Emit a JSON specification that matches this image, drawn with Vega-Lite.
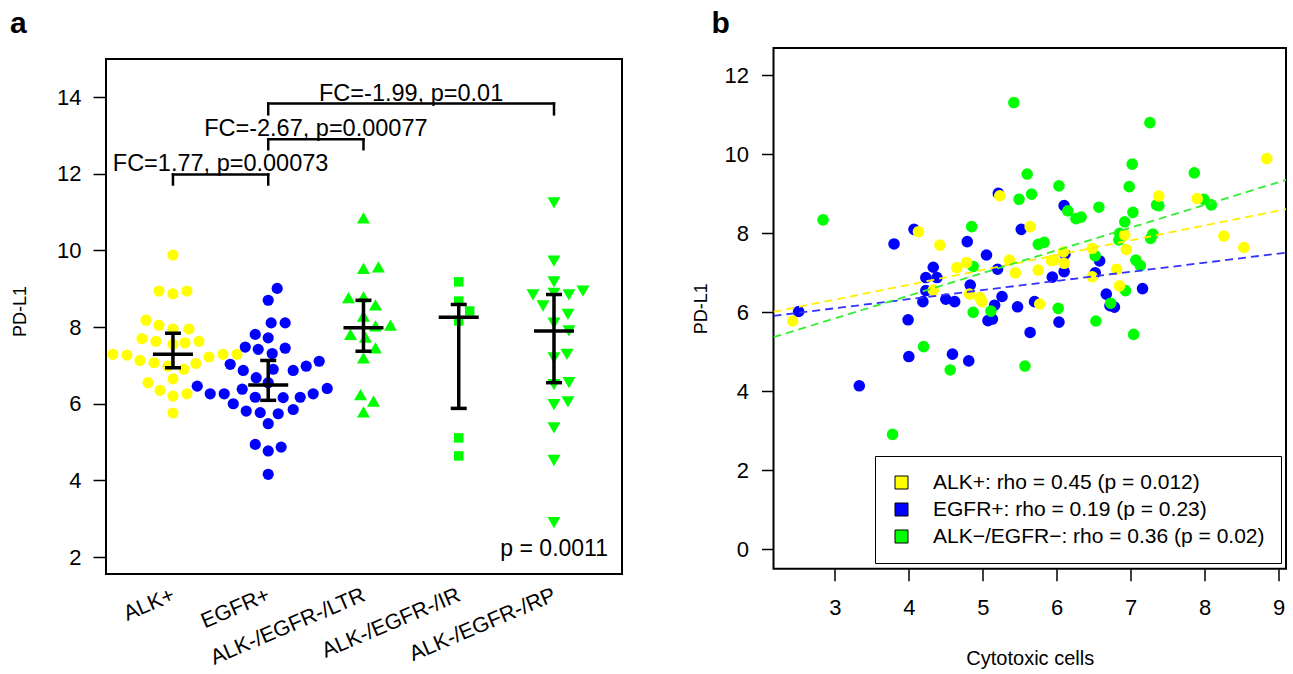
{
  "$schema": "https://vega.github.io/schema/vega-lite/v6.json",
  "background": "white",
  "padding": {"left": 10, "top": 8, "right": 2, "bottom": 2},
  "spacing": 151.5,
  "bounds": "flush",
  "config": {
    "font": "Liberation Sans",
    "view": {"stroke": null},
    "axis": {"labelColor": "black", "tickColor": "black", "titleColor": "black", "domainColor": "black", "labelFontSize": 22, "titleFontSize": 18, "titleFontWeight": "normal", "grid": false, "tickWidth": 1.5, "labelFont": "Liberation Sans", "titleFont": "Liberation Sans"}
  },
  "resolve": {"scale": {"color": "independent"}, "legend": {"color": "independent"}},
  "datasets": {
    "frame": [{"x": 0.297, "x2": 5.714, "y": 1.56, "y2": 14.99}],
    "swarm": [
      {"group": "ALK+", "x": 1.0, "y": 9.88}, {"group": "ALK+", "x": 0.853, "y": 8.94}, {"group": "ALK+", "x": 1.0, "y": 8.87}, {"group": "ALK+", "x": 1.147, "y": 8.94},
      {"group": "ALK+", "x": 0.717, "y": 8.18}, {"group": "ALK+", "x": 0.853, "y": 8.05}, {"group": "ALK+", "x": 1.0, "y": 7.95}, {"group": "ALK+", "x": 1.168, "y": 7.95},
      {"group": "ALK+", "x": 0.675, "y": 7.70}, {"group": "ALK+", "x": 0.821, "y": 7.63}, {"group": "ALK+", "x": 1.126, "y": 7.59}, {"group": "ALK+", "x": 1.273, "y": 7.63},
      {"group": "ALK+", "x": 1.0, "y": 7.55}, {"group": "ALK+", "x": 0.370, "y": 7.29}, {"group": "ALK+", "x": 0.517, "y": 7.27}, {"group": "ALK+", "x": 0.654, "y": 7.13},
      {"group": "ALK+", "x": 0.801, "y": 7.07}, {"group": "ALK+", "x": 1.378, "y": 7.22}, {"group": "ALK+", "x": 1.525, "y": 7.29}, {"group": "ALK+", "x": 1.672, "y": 7.29},
      {"group": "ALK+", "x": 1.241, "y": 7.05}, {"group": "ALK+", "x": 1.115, "y": 6.90}, {"group": "ALK+", "x": 0.948, "y": 6.98}, {"group": "ALK+", "x": 1.0, "y": 6.65},
      {"group": "ALK+", "x": 0.738, "y": 6.55}, {"group": "ALK+", "x": 0.864, "y": 6.35}, {"group": "ALK+", "x": 1.147, "y": 6.26}, {"group": "ALK+", "x": 1.0, "y": 6.20},
      {"group": "ALK+", "x": 1.0, "y": 5.76},
      {"group": "EGFR+", "x": 2.094, "y": 9.01}, {"group": "EGFR+", "x": 2.0, "y": 8.70}, {"group": "EGFR+", "x": 2.031, "y": 8.11}, {"group": "EGFR+", "x": 2.178, "y": 8.11},
      {"group": "EGFR+", "x": 1.864, "y": 7.81}, {"group": "EGFR+", "x": 2.0, "y": 7.72}, {"group": "EGFR+", "x": 1.759, "y": 7.48}, {"group": "EGFR+", "x": 1.895, "y": 7.42},
      {"group": "EGFR+", "x": 2.042, "y": 7.31}, {"group": "EGFR+", "x": 2.178, "y": 7.45}, {"group": "EGFR+", "x": 1.601, "y": 7.03}, {"group": "EGFR+", "x": 1.738, "y": 6.87},
      {"group": "EGFR+", "x": 1.874, "y": 6.68}, {"group": "EGFR+", "x": 2.052, "y": 6.90}, {"group": "EGFR+", "x": 2.262, "y": 6.87}, {"group": "EGFR+", "x": 2.399, "y": 6.98},
      {"group": "EGFR+", "x": 2.535, "y": 7.11}, {"group": "EGFR+", "x": 1.255, "y": 6.46}, {"group": "EGFR+", "x": 1.391, "y": 6.26}, {"group": "EGFR+", "x": 1.538, "y": 6.26},
      {"group": "EGFR+", "x": 1.727, "y": 6.38}, {"group": "EGFR+", "x": 1.864, "y": 6.17}, {"group": "EGFR+", "x": 2.157, "y": 6.16}, {"group": "EGFR+", "x": 2.336, "y": 6.17},
      {"group": "EGFR+", "x": 2.472, "y": 6.26}, {"group": "EGFR+", "x": 2.619, "y": 6.40}, {"group": "EGFR+", "x": 1.633, "y": 6.00}, {"group": "EGFR+", "x": 1.769, "y": 5.81},
      {"group": "EGFR+", "x": 1.916, "y": 5.77}, {"group": "EGFR+", "x": 2.105, "y": 5.74}, {"group": "EGFR+", "x": 2.262, "y": 5.85}, {"group": "EGFR+", "x": 2.0, "y": 5.48},
      {"group": "EGFR+", "x": 1.864, "y": 4.94}, {"group": "EGFR+", "x": 2.0, "y": 4.77}, {"group": "EGFR+", "x": 2.136, "y": 4.87}, {"group": "EGFR+", "x": 2.0, "y": 4.16},
      {"group": "EGFR+", "x": 2.0, "y": 6.55},
      {"group": "ALK-/EGFR-/LTR", "x": 3.0, "y": 10.85}, {"group": "ALK-/EGFR-/LTR", "x": 3.0, "y": 9.53}, {"group": "ALK-/EGFR-/LTR", "x": 3.157, "y": 9.57},
      {"group": "ALK-/EGFR-/LTR", "x": 2.843, "y": 8.77}, {"group": "ALK-/EGFR-/LTR", "x": 3.0, "y": 8.79}, {"group": "ALK-/EGFR-/LTR", "x": 3.126, "y": 8.58},
      {"group": "ALK-/EGFR-/LTR", "x": 3.0, "y": 8.29}, {"group": "ALK-/EGFR-/LTR", "x": 3.126, "y": 8.03}, {"group": "ALK-/EGFR-/LTR", "x": 3.283, "y": 8.05},
      {"group": "ALK-/EGFR-/LTR", "x": 2.864, "y": 7.81}, {"group": "ALK-/EGFR-/LTR", "x": 3.021, "y": 7.74}, {"group": "ALK-/EGFR-/LTR", "x": 3.126, "y": 7.46},
      {"group": "ALK-/EGFR-/LTR", "x": 3.0, "y": 7.20}, {"group": "ALK-/EGFR-/LTR", "x": 2.969, "y": 6.24}, {"group": "ALK-/EGFR-/LTR", "x": 3.105, "y": 6.07},
      {"group": "ALK-/EGFR-/LTR", "x": 3.0, "y": 5.79},
      {"group": "ALK-/EGFR-/IR", "x": 4.0, "y": 9.18}, {"group": "ALK-/EGFR-/IR", "x": 4.0, "y": 8.68}, {"group": "ALK-/EGFR-/IR", "x": 4.115, "y": 8.42},
      {"group": "ALK-/EGFR-/IR", "x": 4.0, "y": 8.16}, {"group": "ALK-/EGFR-/IR", "x": 4.0, "y": 5.11}, {"group": "ALK-/EGFR-/IR", "x": 4.0, "y": 4.64},
      {"group": "ALK-/EGFR-/RP", "x": 5.0, "y": 11.24}, {"group": "ALK-/EGFR-/RP", "x": 5.0, "y": 9.72}, {"group": "ALK-/EGFR-/RP", "x": 5.0, "y": 9.18},
      {"group": "ALK-/EGFR-/RP", "x": 4.78, "y": 8.84}, {"group": "ALK-/EGFR-/RP", "x": 5.0, "y": 8.88}, {"group": "ALK-/EGFR-/RP", "x": 5.157, "y": 8.84},
      {"group": "ALK-/EGFR-/RP", "x": 5.304, "y": 8.94}, {"group": "ALK-/EGFR-/RP", "x": 4.885, "y": 8.55}, {"group": "ALK-/EGFR-/RP", "x": 5.147, "y": 8.33},
      {"group": "ALK-/EGFR-/RP", "x": 5.0, "y": 8.10}, {"group": "ALK-/EGFR-/RP", "x": 5.157, "y": 7.90}, {"group": "ALK-/EGFR-/RP", "x": 5.0, "y": 7.20},
      {"group": "ALK-/EGFR-/RP", "x": 5.136, "y": 7.29}, {"group": "ALK-/EGFR-/RP", "x": 5.0, "y": 6.50}, {"group": "ALK-/EGFR-/RP", "x": 5.157, "y": 6.55},
      {"group": "ALK-/EGFR-/RP", "x": 5.0, "y": 5.98}, {"group": "ALK-/EGFR-/RP", "x": 5.147, "y": 6.05}, {"group": "ALK-/EGFR-/RP", "x": 5.0, "y": 5.37},
      {"group": "ALK-/EGFR-/RP", "x": 5.0, "y": 4.52}, {"group": "ALK-/EGFR-/RP", "x": 5.0, "y": 2.90}
    ],
    "summary": [
      {"group": "ALK+", "x": 1, "mean": 7.29, "lo": 6.94, "hi": 7.84},
      {"group": "EGFR+", "x": 2, "mean": 6.49, "lo": 6.09, "hi": 7.13},
      {"group": "ALK-/EGFR-/LTR", "x": 3, "mean": 7.98, "lo": 7.37, "hi": 8.70},
      {"group": "ALK-/EGFR-/IR", "x": 4, "mean": 8.26, "lo": 5.88, "hi": 8.59},
      {"group": "ALK-/EGFR-/RP", "x": 5, "mean": 7.90, "lo": 6.55, "hi": 8.85}
    ],
    "brackets": [
      {"x": 1, "x2": 2, "y": 11.98, "y2": 11.98}, {"x": 1, "x2": 1, "y": 11.98, "y2": 11.72}, {"x": 2, "x2": 2, "y": 11.98, "y2": 11.72},
      {"x": 2, "x2": 3, "y": 12.9, "y2": 12.9}, {"x": 2, "x2": 2, "y": 12.9, "y2": 12.64}, {"x": 3, "x2": 3, "y": 12.9, "y2": 12.64},
      {"x": 2, "x2": 5, "y": 13.83, "y2": 13.83}, {"x": 2, "x2": 2, "y": 13.83, "y2": 13.55}, {"x": 5, "x2": 5, "y": 13.83, "y2": 13.55}
    ],
    "notes": [
      {"x": 1.5, "y": 12.07, "label": "FC=1.77, p=0.00073"},
      {"x": 2.5, "y": 12.98, "label": "FC=-2.67, p=0.00077"},
      {"x": 3.5, "y": 13.9, "label": "FC=-1.99, p=0.01"}
    ],
    "pnote": [{"x": 5.567, "y": 2.04, "label": "p = 0.0011"}],
    "scatter": [
      {"group": "EGFR+", "x": 2.51, "y": 6.02}, {"group": "EGFR+", "x": 3.33, "y": 4.14}, {"group": "EGFR+", "x": 3.80, "y": 7.73}, {"group": "EGFR+", "x": 3.99, "y": 5.81},
      {"group": "EGFR+", "x": 4.00, "y": 4.88}, {"group": "EGFR+", "x": 4.07, "y": 8.10}, {"group": "EGFR+", "x": 4.19, "y": 6.27}, {"group": "EGFR+", "x": 4.23, "y": 6.55},
      {"group": "EGFR+", "x": 4.23, "y": 6.88}, {"group": "EGFR+", "x": 4.33, "y": 7.14}, {"group": "EGFR+", "x": 4.38, "y": 6.88}, {"group": "EGFR+", "x": 4.50, "y": 6.33},
      {"group": "EGFR+", "x": 4.59, "y": 4.94}, {"group": "EGFR+", "x": 4.62, "y": 6.27}, {"group": "EGFR+", "x": 4.79, "y": 7.79}, {"group": "EGFR+", "x": 4.81, "y": 4.77},
      {"group": "EGFR+", "x": 4.83, "y": 6.69}, {"group": "EGFR+", "x": 5.05, "y": 7.45}, {"group": "EGFR+", "x": 5.07, "y": 5.79}, {"group": "EGFR+", "x": 5.13, "y": 5.83},
      {"group": "EGFR+", "x": 5.16, "y": 6.18}, {"group": "EGFR+", "x": 5.20, "y": 7.09}, {"group": "EGFR+", "x": 5.21, "y": 9.01}, {"group": "EGFR+", "x": 5.26, "y": 6.40},
      {"group": "EGFR+", "x": 5.47, "y": 6.14}, {"group": "EGFR+", "x": 5.52, "y": 8.10}, {"group": "EGFR+", "x": 5.64, "y": 5.49}, {"group": "EGFR+", "x": 5.70, "y": 6.27},
      {"group": "EGFR+", "x": 5.94, "y": 6.89}, {"group": "EGFR+", "x": 6.03, "y": 5.75}, {"group": "EGFR+", "x": 6.10, "y": 8.70}, {"group": "EGFR+", "x": 6.10, "y": 7.03},
      {"group": "EGFR+", "x": 6.11, "y": 7.47}, {"group": "EGFR+", "x": 6.52, "y": 7.00}, {"group": "EGFR+", "x": 6.58, "y": 7.30}, {"group": "EGFR+", "x": 6.67, "y": 6.46},
      {"group": "EGFR+", "x": 6.72, "y": 6.17}, {"group": "EGFR+", "x": 6.78, "y": 6.13}, {"group": "EGFR+", "x": 7.16, "y": 6.60},
      {"group": "ALK−/EGFR−", "x": 2.84, "y": 8.34}, {"group": "ALK−/EGFR−", "x": 3.78, "y": 2.91}, {"group": "ALK−/EGFR−", "x": 4.20, "y": 5.13}, {"group": "ALK−/EGFR−", "x": 4.56, "y": 4.54},
      {"group": "ALK−/EGFR−", "x": 4.85, "y": 8.17}, {"group": "ALK−/EGFR−", "x": 4.87, "y": 7.16}, {"group": "ALK−/EGFR−", "x": 4.87, "y": 6.00}, {"group": "ALK−/EGFR−", "x": 5.11, "y": 6.03},
      {"group": "ALK−/EGFR−", "x": 5.42, "y": 11.31}, {"group": "ALK−/EGFR−", "x": 5.49, "y": 8.86}, {"group": "ALK−/EGFR−", "x": 5.57, "y": 4.64}, {"group": "ALK−/EGFR−", "x": 5.60, "y": 9.50},
      {"group": "ALK−/EGFR−", "x": 5.66, "y": 8.99}, {"group": "ALK−/EGFR−", "x": 5.75, "y": 7.72}, {"group": "ALK−/EGFR−", "x": 5.83, "y": 7.77}, {"group": "ALK−/EGFR−", "x": 6.02, "y": 6.10},
      {"group": "ALK−/EGFR−", "x": 6.03, "y": 9.20}, {"group": "ALK−/EGFR−", "x": 6.15, "y": 8.57}, {"group": "ALK−/EGFR−", "x": 6.26, "y": 8.37}, {"group": "ALK−/EGFR−", "x": 6.33, "y": 8.41},
      {"group": "ALK−/EGFR−", "x": 6.52, "y": 7.43}, {"group": "ALK−/EGFR−", "x": 6.53, "y": 5.78}, {"group": "ALK−/EGFR−", "x": 6.57, "y": 8.66}, {"group": "ALK−/EGFR−", "x": 6.73, "y": 6.23},
      {"group": "ALK−/EGFR−", "x": 6.84, "y": 7.83}, {"group": "ALK−/EGFR−", "x": 6.85, "y": 8.00}, {"group": "ALK−/EGFR−", "x": 6.92, "y": 8.29}, {"group": "ALK−/EGFR−", "x": 6.93, "y": 6.55},
      {"group": "ALK−/EGFR−", "x": 6.98, "y": 9.18}, {"group": "ALK−/EGFR−", "x": 7.02, "y": 9.75}, {"group": "ALK−/EGFR−", "x": 7.03, "y": 8.53}, {"group": "ALK−/EGFR−", "x": 7.04, "y": 5.44},
      {"group": "ALK−/EGFR−", "x": 7.07, "y": 7.32}, {"group": "ALK−/EGFR−", "x": 7.13, "y": 7.18}, {"group": "ALK−/EGFR−", "x": 7.26, "y": 10.80}, {"group": "ALK−/EGFR−", "x": 7.27, "y": 7.87},
      {"group": "ALK−/EGFR−", "x": 7.30, "y": 7.98}, {"group": "ALK−/EGFR−", "x": 7.35, "y": 8.72}, {"group": "ALK−/EGFR−", "x": 7.38, "y": 8.70}, {"group": "ALK−/EGFR−", "x": 7.86, "y": 9.53},
      {"group": "ALK−/EGFR−", "x": 7.99, "y": 8.86}, {"group": "ALK−/EGFR−", "x": 8.09, "y": 8.72},
      {"group": "ALK+", "x": 2.43, "y": 5.78}, {"group": "ALK+", "x": 4.13, "y": 8.04}, {"group": "ALK+", "x": 4.42, "y": 7.70}, {"group": "ALK+", "x": 5.23, "y": 8.95},
      {"group": "ALK+", "x": 4.65, "y": 7.13}, {"group": "ALK+", "x": 4.78, "y": 7.26}, {"group": "ALK+", "x": 5.36, "y": 7.32}, {"group": "ALK+", "x": 5.44, "y": 7.00},
      {"group": "ALK+", "x": 5.64, "y": 8.17}, {"group": "ALK+", "x": 5.75, "y": 7.07}, {"group": "ALK+", "x": 4.33, "y": 6.56}, {"group": "ALK+", "x": 4.82, "y": 6.46},
      {"group": "ALK+", "x": 4.96, "y": 6.37}, {"group": "ALK+", "x": 4.99, "y": 6.27}, {"group": "ALK+", "x": 5.77, "y": 6.21}, {"group": "ALK+", "x": 5.93, "y": 7.31},
      {"group": "ALK+", "x": 5.96, "y": 7.32}, {"group": "ALK+", "x": 6.10, "y": 7.24}, {"group": "ALK+", "x": 6.09, "y": 7.53}, {"group": "ALK+", "x": 6.48, "y": 7.62},
      {"group": "ALK+", "x": 6.48, "y": 6.90}, {"group": "ALK+", "x": 6.81, "y": 7.09}, {"group": "ALK+", "x": 6.92, "y": 7.96}, {"group": "ALK+", "x": 6.94, "y": 7.59},
      {"group": "ALK+", "x": 6.85, "y": 6.67}, {"group": "ALK+", "x": 7.38, "y": 8.94}, {"group": "ALK+", "x": 7.90, "y": 8.88}, {"group": "ALK+", "x": 8.26, "y": 7.93},
      {"group": "ALK+", "x": 8.53, "y": 7.64}, {"group": "ALK+", "x": 8.84, "y": 9.89}
    ],
    "fits": [
      {"group": "ALK+", "x": 2.17, "y": 6.01}, {"group": "ALK+", "x": 9.1, "y": 8.61},
      {"group": "EGFR+", "x": 2.17, "y": 5.91}, {"group": "EGFR+", "x": 9.1, "y": 7.51},
      {"group": "ALK−/EGFR−", "x": 2.17, "y": 5.37}, {"group": "ALK−/EGFR−", "x": 9.1, "y": 9.35}
    ]
  },
  "hconcat": [
    {
      "width": 516,
      "height": 526,
      "title": {"text": "a", "anchor": "start", "frame": "group", "dx": -96, "offset": -15, "fontSize": 30, "fontWeight": "bold", "baseline": "alphabetic", "color": "black", "font": "Liberation Sans"},
      "encoding": {
        "x": {"field": "x", "type": "quantitative", "scale": {"domain": [0.297, 5.714], "nice": false, "zero": false},
          "axis": {"values": [1, 2, 3, 4, 5], "labelExpr": "datum.value == 1 ? 'ALK+' : datum.value == 2 ? 'EGFR+' : datum.value == 3 ? 'ALK-/EGFR-/LTR' : datum.value == 4 ? 'ALK-/EGFR-/IR' : 'ALK-/EGFR-/RP'", "ticks": false, "domain": false, "labelAngle": -23, "labelAlign": "right", "labelBaseline": "top", "labelPadding": 10, "labelOffset": -4, "labelFontSize": 21.5, "labelLimit": 0, "labelFlush": false, "labelOverlap": false, "title": null}},
        "y": {"field": "y", "type": "quantitative", "scale": {"domain": [1.56, 15.28], "nice": false, "zero": false},
          "axis": {"values": [2, 4, 6, 8, 10, 12, 14], "domain": false, "tickSize": 13, "labelPadding": 12, "title": "PD-L1", "titlePadding": 27}}
      },
      "layer": [
        {"data": {"name": "frame"}, "mark": {"type": "rect", "fill": "transparent", "stroke": "black", "strokeWidth": 2},
          "encoding": {"x2": {"field": "x2"}, "y2": {"field": "y2"}}},
        {"data": {"name": "swarm"}, "transform": [{"filter": "datum.group == 'ALK+' || datum.group == 'EGFR+'"}],
          "mark": {"type": "point", "shape": "circle", "filled": true, "size": 125, "opacity": 1},
          "encoding": {"color": {"field": "group", "type": "nominal", "scale": {"domain": ["ALK+", "EGFR+", "ALK-/EGFR-/LTR", "ALK-/EGFR-/IR", "ALK-/EGFR-/RP"], "range": ["#FFFF00", "#0000FF", "#00FF00", "#00FF00", "#00FF00"]}, "legend": null}}},
        {"data": {"name": "swarm"}, "transform": [{"filter": "datum.group == 'ALK-/EGFR-/LTR'"}],
          "mark": {"type": "point", "shape": "triangle-up", "filled": true, "size": 170, "opacity": 1},
          "encoding": {"color": {"field": "group", "type": "nominal", "legend": null}}},
        {"data": {"name": "swarm"}, "transform": [{"filter": "datum.group == 'ALK-/EGFR-/IR'"}],
          "mark": {"type": "point", "shape": "square", "filled": true, "size": 90, "opacity": 1},
          "encoding": {"color": {"field": "group", "type": "nominal", "legend": null}}},
        {"data": {"name": "swarm"}, "transform": [{"filter": "datum.group == 'ALK-/EGFR-/RP'"}],
          "mark": {"type": "point", "shape": "triangle-down", "filled": true, "size": 170, "opacity": 1},
          "encoding": {"color": {"field": "group", "type": "nominal", "legend": null}}},
        {"data": {"name": "summary"}, "mark": {"type": "rule", "color": "black", "strokeWidth": 3.5},
          "encoding": {"y": {"field": "lo", "type": "quantitative"}, "y2": {"field": "hi"}}},
        {"data": {"name": "summary"}, "mark": {"type": "tick", "orient": "horizontal", "color": "black", "size": 40, "thickness": 3.5, "opacity": 1},
          "encoding": {"y": {"field": "mean", "type": "quantitative"}}},
        {"data": {"name": "summary"}, "mark": {"type": "tick", "orient": "horizontal", "color": "black", "size": 16, "thickness": 3.5, "opacity": 1},
          "encoding": {"y": {"field": "lo", "type": "quantitative"}}},
        {"data": {"name": "summary"}, "mark": {"type": "tick", "orient": "horizontal", "color": "black", "size": 16, "thickness": 3.5, "opacity": 1},
          "encoding": {"y": {"field": "hi", "type": "quantitative"}}},
        {"data": {"name": "brackets"}, "mark": {"type": "rule", "color": "black", "strokeWidth": 2.5, "strokeCap": "square"},
          "encoding": {"x2": {"field": "x2"}, "y2": {"field": "y2"}}},
        {"data": {"name": "notes"}, "mark": {"type": "text", "fontSize": 23.5, "align": "center", "baseline": "alphabetic", "color": "black", "font": "Liberation Sans"},
          "encoding": {"text": {"field": "label"}}},
        {"data": {"name": "pnote"}, "mark": {"type": "text", "fontSize": 23, "align": "right", "baseline": "alphabetic", "color": "black", "font": "Liberation Sans"},
          "encoding": {"text": {"field": "label"}}}
      ]
    },
    {
      "width": 512.5,
      "height": 520.7,
      "view": {"stroke": "black", "strokeWidth": 2},
      "title": {"text": "b", "anchor": "start", "frame": "group", "dx": -62, "offset": -15, "fontSize": 30, "fontWeight": "bold", "baseline": "alphabetic", "color": "black", "font": "Liberation Sans"},
      "encoding": {
        "x": {"field": "x", "type": "quantitative", "scale": {"domain": [2.17, 9.1], "nice": false, "zero": false},
          "axis": {"values": [3, 4, 5, 6, 7, 8, 9], "domain": false, "tickSize": 12, "labelPadding": 17, "title": "Cytotoxic cells", "titleFontSize": 20, "titlePadding": 30}},
        "y": {"field": "y", "type": "quantitative", "scale": {"domain": [-0.49, 12.69], "nice": false, "zero": false},
          "axis": {"values": [0, 2, 4, 6, 8, 10, 12], "domain": false, "tickSize": 12, "labelPadding": 13, "title": "PD-L1", "titlePadding": 14}}
      },
      "layer": [
        {"data": {"name": "scatter"}, "mark": {"type": "point", "shape": "circle", "filled": true, "size": 135, "opacity": 1},
          "encoding": {"color": {"field": "group", "type": "nominal", "sort": null,
            "scale": {"domain": ["ALK+", "EGFR+", "ALK−/EGFR−"], "range": ["#FFFF00", "#0000FF", "#00FF00"]},
            "legend": {"orient": "none", "legendX": 101.5, "legendY": 408, "title": null, "fillColor": "white", "strokeColor": "black", "padding": 16,
              "symbolType": "square", "symbolSize": 169, "symbolStrokeColor": "black", "symbolStrokeWidth": 1, "symbolOpacity": 1,
              "labelFontSize": 21, "labelFont": "Liberation Sans", "labelColor": "black", "labelOffset": 21, "rowPadding": 5, "labelLimit": 0,
              "labelExpr": "datum.label == 'ALK+' ? 'ALK+: rho = 0.45 (p = 0.012)' : datum.label == 'EGFR+' ? 'EGFR+: rho = 0.19 (p = 0.23)' : 'ALK−/EGFR−: rho = 0.36 (p = 0.02)'"}}}},
        {"data": {"name": "fits"}, "mark": {"type": "line", "strokeDash": [8, 5], "strokeWidth": 1.8, "clip": true},
          "encoding": {"stroke": {"field": "group", "type": "nominal", "scale": {"domain": ["ALK+", "EGFR+", "ALK−/EGFR−"], "range": ["#FFEE00", "#3333FF", "#33EE33"]}, "legend": null},
            "detail": {"field": "group"}}}
      ]
    }
  ]
}
